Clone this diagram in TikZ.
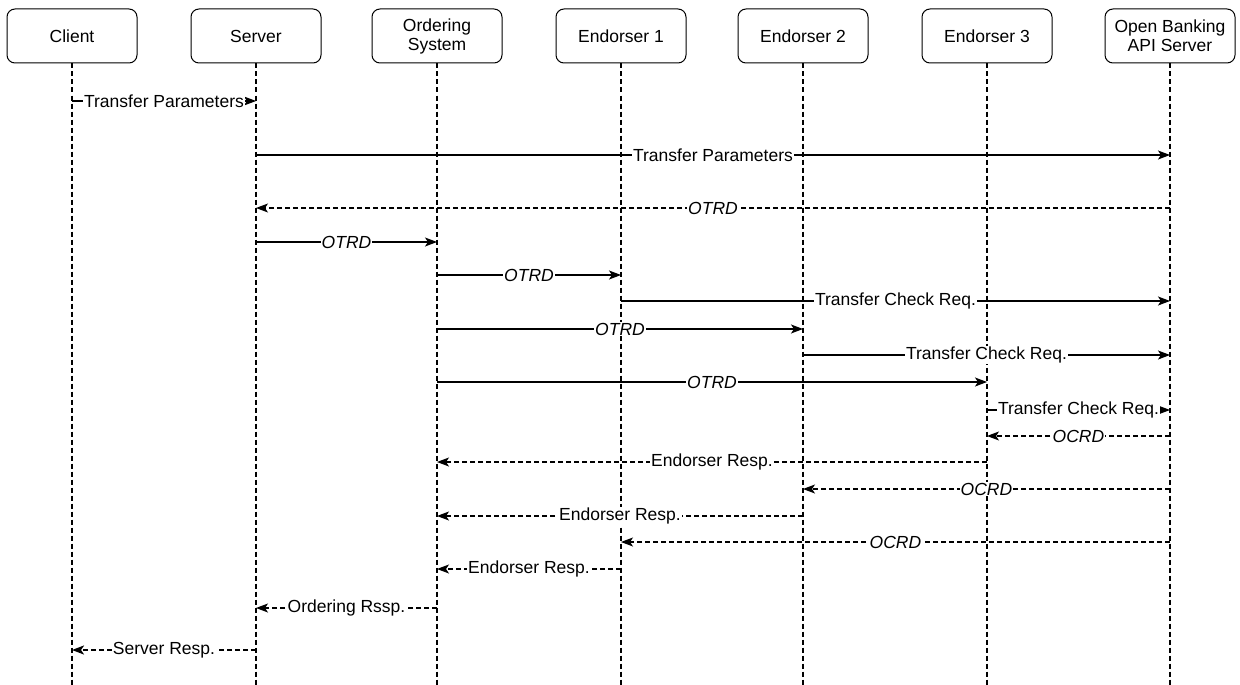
\documentclass[tikz,border=0pt]{standalone}
\usepackage{fontspec}
\setmainfont{Liberation Sans}
\usetikzlibrary{arrows.meta}
\begin{document}
\begin{tikzpicture}[x=1pt,y=-1pt,
  actor/.style={draw,rounded corners=8pt,line width=1pt,minimum width=130pt,minimum height=54pt,
    align=center,font=\fontsize{17.5}{19}\selectfont,inner sep=2pt},
  life/.style={line width=2.2pt,dash pattern=on 5pt off 3pt},
  msg/.style={line width=1.1pt,-{Stealth[length=12pt,width=9pt,inset=3pt]}},
  reply/.style={msg,dash pattern=on 5pt off 3pt},
  lbl/.style={fill=white,inner sep=1pt,font=\fontsize{17.5}{19}\selectfont},
  ilbl/.style={lbl,font=\fontsize{17.5}{19}\selectfont\itshape}]
\useasboundingbox (0,0) rectangle (1240,685);
\fill[white] (0,0) rectangle (1240,685);

% participants
\foreach \n/\x/\t in {cli/72/Client,srv/256/Server,ord/437/Ordering\\System,
    eA/621/Endorser 1,eB/803/Endorser 2,eC/987/Endorser 3,obk/1170/Open Banking\\API Server}{
  \node[actor] (\n) at (\x,36) {\t};
  \coordinate (\n-end) at (\x,685);
  \draw[life] (\n.south) -- (\n-end);
  % anchor points on the lifeline for every message row
  \foreach \r/\y in {1/101,2/155,3/208,4/242,5/275,6/301,7/329,8/355,9/382,
      10/410,11/436,12/462,13/489,14/516,15/542,16/569,17/608,18/650}{
    \coordinate (\n\r) at (\x,\y);
  }
}

% messages
\draw[msg] (cli1) -- node[lbl]{Transfer Parameters} (srv1);
\draw[msg] (srv2) -- node[lbl]{Transfer Parameters} (obk2);
\draw[reply] (obk3) -- node[ilbl]{OTRD} (srv3);
\draw[msg] (srv4) -- node[ilbl]{OTRD} (ord4);
\draw[msg] (ord5) -- node[ilbl]{OTRD} (eA5);
\draw[msg] (eA6) -- node[lbl]{Transfer Check Req.} (obk6);
\draw[msg] (ord7) -- node[ilbl]{OTRD} (eB7);
\draw[msg] (eB8) -- node[lbl]{Transfer Check Req.} (obk8);
\draw[msg] (ord9) -- node[ilbl]{OTRD} (eC9);
\draw[msg] (eC10) -- node[lbl]{Transfer Check Req.} (obk10);
\draw[reply] (obk11) -- node[ilbl]{OCRD} (eC11);
\draw[reply] (eC12) -- node[lbl]{Endorser Resp.} (ord12);
\draw[reply] (obk13) -- node[ilbl]{OCRD} (eB13);
\draw[reply] (eB14) -- node[lbl]{Endorser Resp.} (ord14);
\draw[reply] (obk15) -- node[ilbl]{OCRD} (eA15);
\draw[reply] (eA16) -- node[lbl]{Endorser Resp.} (ord16);
\draw[reply] (ord17) -- node[lbl]{Ordering Rssp.} (srv17);
\draw[reply,line width=2pt] (srv18) -- node[lbl]{Server Resp.} (cli18);
\end{tikzpicture}
\end{document}
